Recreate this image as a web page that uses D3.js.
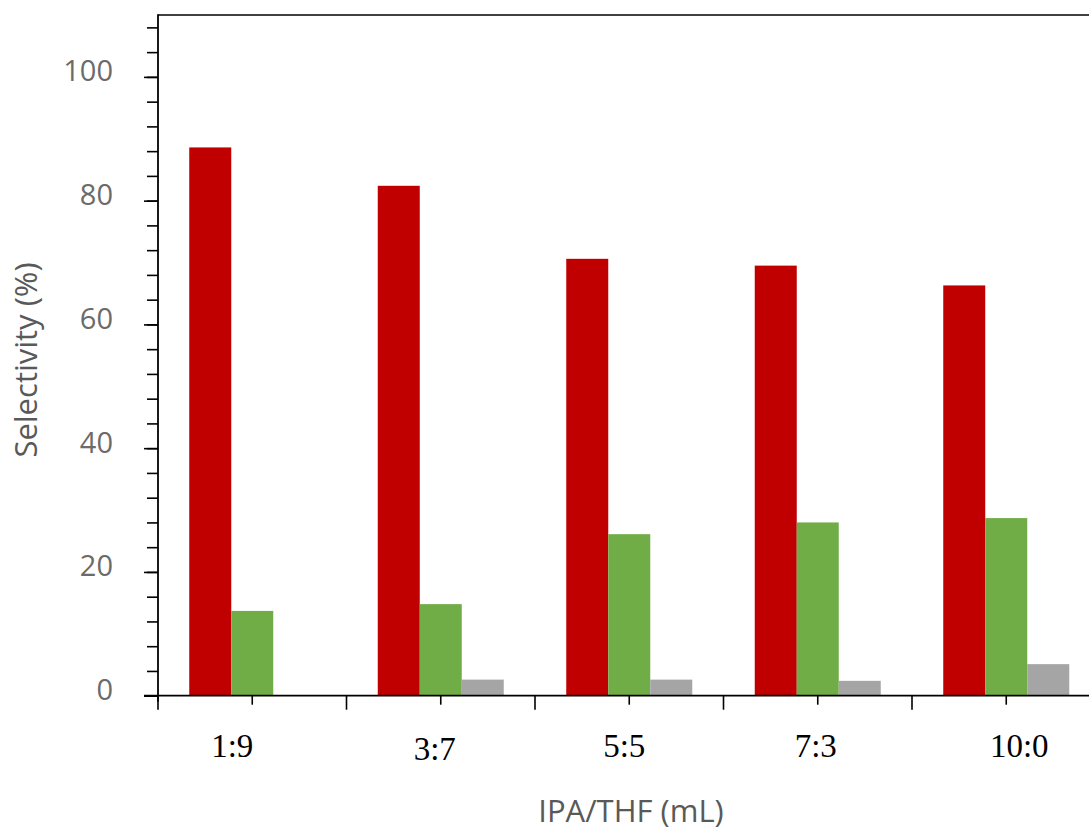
<!DOCTYPE html>
<html>
<head>
<meta charset="utf-8">
<script src="https://cdn.jsdelivr.net/npm/d3@7"></script>
<style>
  html, body { margin: 0; padding: 0; background: #fff; }
  svg { display: block; }
</style>
</head>
<body>
<svg id="chart" width="1089" height="830"></svg>
<script>
// Solvent ratios (IPA/THF, mL) and selectivity of each product (%)
const categories = ["1:9", "3:7", "5:5", "7:3", "10:0"];
const seriesNames = ["A", "B", "C"];
const seriesA = [88.6, 82.4, 70.6, 69.5, 66.3];
const seriesB = [13.7, 14.8, 26.1, 28.0, 28.7];
const seriesC = [0, 2.6, 2.6, 2.4, 5.1];
const yTicks = [0, 20, 40, 60, 80, 100];
const yMinorTicks = d3.range(0, 110, 4);

const colors = ["#C00000", "#70AD47", "#A5A5A5"];
const values = [seriesA, seriesB, seriesC];

const svg = d3.select("#chart");
const plotLeft = 158, plotTop = 15, plotBottom = 695.7, plotRight = 1100.5;

const x = d3.scaleBand().domain(categories).range([plotLeft, plotRight]).paddingInner(0).paddingOuter(0);
const xs = d3.scaleBand().domain(seriesNames).range([0, x.bandwidth()]).paddingInner(0).paddingOuter(0.744);
const y = d3.scaleLinear().domain([0, 110]).range([plotBottom, plotTop]);

// bars
categories.forEach((c, i) => {
  seriesNames.forEach((s, j) => {
    const v = values[j][i];
    if (v <= 0) return;
    svg.append("rect")
      .attr("x", x(c) + xs(s))
      .attr("y", y(v))
      .attr("width", xs.bandwidth())
      .attr("height", y(0) - y(v))
      .attr("fill", colors[j]);
  });
});

// frame: top line
svg.append("line").attr("x1", plotLeft).attr("x2", 1089).attr("y1", plotTop).attr("y2", plotTop)
  .attr("stroke", "#000").attr("stroke-width", 1.6);

// y axis with minor ticks
const yAxisMinor = d3.axisLeft(y).tickValues(yMinorTicks).tickSize(11).tickFormat("");
const gyMinor = svg.append("g").attr("transform", `translate(${plotLeft},0)`).call(yAxisMinor);
const yAxis = d3.axisLeft(y).tickValues(yTicks).tickSize(14).tickFormat(d3.format("d"));
const gy = svg.append("g").attr("transform", `translate(${plotLeft},0)`).call(yAxis);
[gyMinor, gy].forEach(g => {
  g.select(".domain").remove();
  g.selectAll(".tick line").attr("stroke", "#000").attr("stroke-width", 1.6);
});
svg.append("line").attr("x1", plotLeft).attr("x2", plotLeft).attr("y1", plotTop - 0.8).attr("y2", plotBottom + 6)
  .attr("stroke", "#000").attr("stroke-width", 1.8);
gy.selectAll(".tick text")
  .attr("x", -45)
  .attr("dy", "4px")
  .attr("fill", "#6b6b6b")
  .attr("font-family", "'Open Sans', 'Noto Sans', sans-serif")
  .attr("font-size", 29)
  .attr("text-anchor", "end");

// x axis: long ticks at band edges, short ticks at band centres
const edges = categories.map(c => x(c)).concat([x(categories[categories.length - 1]) + x.bandwidth()]);
const gx = svg.append("g");
gx.append("line").attr("x1", plotLeft - 14).attr("x2", 1089).attr("y1", plotBottom).attr("y2", plotBottom)
  .attr("stroke", "#000").attr("stroke-width", 1.8);
gx.selectAll("line.edge").data(edges).join("line").attr("class", "edge")
  .attr("x1", d => d).attr("x2", d => d).attr("y1", plotBottom).attr("y2", plotBottom + 14)
  .attr("stroke", "#000").attr("stroke-width", 1.6);
gx.selectAll("line.mid").data(categories).join("line").attr("class", "mid")
  .attr("x1", d => x(d) + x.bandwidth() / 2).attr("x2", d => x(d) + x.bandwidth() / 2)
  .attr("y1", plotBottom).attr("y2", plotBottom + 9)
  .attr("stroke", "#000").attr("stroke-width", 1.6);

// category labels (set as loose text boxes, nudged per label)
const labelNudge = [-20, -6, -5, -2, 13];
const labelDrop = [0, 3, 0, 0, 0];
gx.selectAll("text.cat").data(categories).join("text").attr("class", "cat")
  .attr("x", (d, i) => x(d) + x.bandwidth() / 2 + labelNudge[i])
  .attr("y", (d, i) => 756.5 + labelDrop[i])
  .attr("text-anchor", "middle")
  .attr("font-family", "'Liberation Serif', 'Times New Roman', serif")
  .attr("font-size", 33)
  .attr("fill", "#000")
  .text(d => d);

// axis titles
svg.append("text")
  .attr("transform", "translate(37,360) rotate(-90)")
  .attr("text-anchor", "middle")
  .attr("font-family", "'Open Sans', 'Noto Sans', sans-serif")
  .attr("font-size", 31)
  .attr("font-weight", 500)
  .attr("fill", "#595959")
  .text("Selectivity (%)");

svg.append("text")
  .attr("x", 631)
  .attr("y", 822)
  .attr("text-anchor", "middle")
  .attr("font-family", "'Open Sans', 'Noto Sans', sans-serif")
  .attr("font-size", 31)
  .attr("fill", "#595959")
  .text("IPA/THF (mL)");
</script>
</body>
</html>
